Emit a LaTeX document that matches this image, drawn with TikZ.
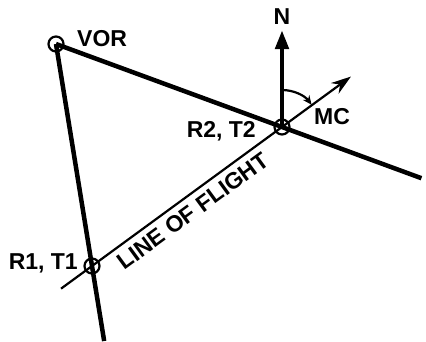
\documentclass[tikz,border=0pt]{standalone}
\usepackage{fontspec}
\setmainfont{Liberation Sans}
\usetikzlibrary{arrows.meta,calc}
\begin{document}
\begin{tikzpicture}[x=1pt,y=1pt,
  station/.style={circle,draw,line width=2.2pt,minimum size=15pt,inner sep=0pt},
  radial/.style={line width=4.5pt},
  flightline/.style={line width=2.2pt},
  lbl/.style={font=\fontsize{23}{27}\selectfont\bfseries,inner sep=0pt}]
\useasboundingbox (0,0) rectangle (426,341);
\node[station] (vor) at (56,297) {};
\node[station] (r2) at (282,214) {};
\node[station] (r1) at (92,75) {};
\coordinate (e1) at ($(vor.center)!1.617!(r2.center)$);
\coordinate (e2) at ($(vor.center)!1.338!(r1.center)$);
\coordinate (fs) at ($(r1.center)!-0.163!(r2.center)$);
\coordinate (ft) at ($(r1.center)!1.363!(r2.center)$);
\coordinate (nt) at (282,311);
\draw[radial] (vor.center) -- (e1);
\draw[radial] (vor.center) -- (e2);
\draw[flightline,-{Stealth[length=20pt,width=13pt]}] (fs) -- (ft);
\draw[radial,-{Triangle[length=19pt,width=13pt]}] (r2.center) -- (nt);
\draw[line width=2.2pt,-{Stealth[length=9pt,width=8pt]}] ([shift={(90:37)}]r2.center) arc[start angle=90,end angle=37,radius=37];
\node[lbl] (nl) at (282,324) {N};
\node[lbl,anchor=west] (vorl) at (77,302) {VOR};
\node[lbl,anchor=east] (r2l) at (256,210) {R2, T2};
\node[lbl,anchor=east] (r1l) at (78,78) {R1, T1};
\node[lbl] (mcl) at (332,224) {MC};
\node[lbl,rotate=36.2] (lof) at (193,130) {LINE OF FLIGHT};
\end{tikzpicture}
\end{document}
